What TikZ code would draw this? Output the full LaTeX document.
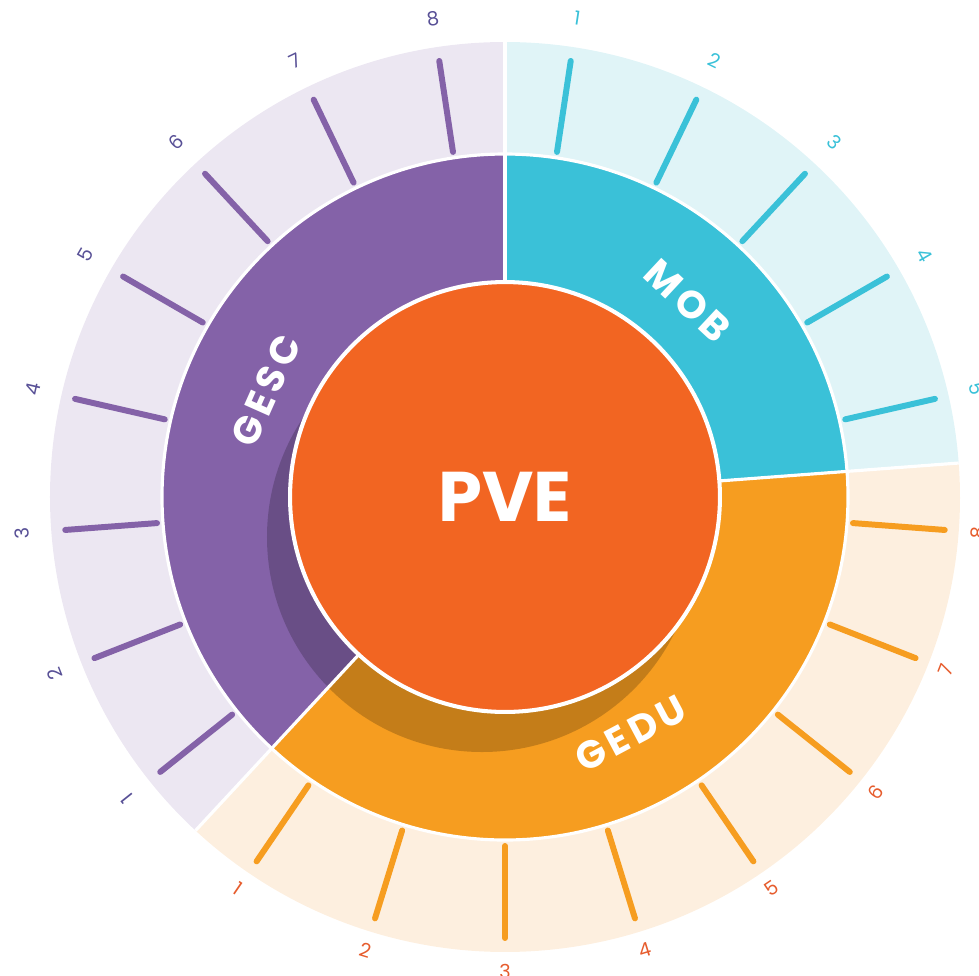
\documentclass[tikz,border=0pt]{standalone}
\usepackage{fontspec}
\setmainfont{Poppins}
\usepackage{tikz}
\usetikzlibrary{calc}
\definecolor{roxo}{RGB}{132, 98, 168}
\definecolor{roxoClaro}{RGB}{236, 231, 242}
\definecolor{roxoTexto}{RGB}{88, 80, 150}
\definecolor{turquesa}{RGB}{58, 193, 216}
\definecolor{turquesaClaro}{RGB}{224, 244, 247}
\definecolor{laranja}{RGB}{246, 157, 32}
\definecolor{laranjaClaro}{RGB}{253, 239, 223}
\definecolor{vermelhao}{RGB}{242, 101, 34}
\definecolor{tijolo}{RGB}{230, 92, 45}
\tikzstyle{traco}=[line width=3.4pt, line cap=round]
\tikzstyle{separa}=[white, line width=1.8pt]
\tikzstyle{numero}=[inner sep=0pt,
                    font=\fontsize{11}{11}\selectfont]
\tikzstyle{eixo}=[text=white, inner sep=0pt,
                  font=\fontsize{22}{22}\selectfont\bfseries\addfontfeatures{LetterSpace=12}]

\begin{document}
\begin{tikzpicture}[x=0.02cm,y=0.02cm]

    \useasboundingbox (-505,-478) rectangle (474,497);

    % anel externo
    \fill[turquesaClaro] (0,0) -- (90:455) arc[start angle=90, end angle=4.2857, radius=455] -- cycle;
    \fill[laranjaClaro] (0,0) -- (4.2857:455) arc[start angle=4.2857, end angle=-132.857, radius=455] -- cycle;
    \fill[roxoClaro] (0,0) -- (90:455) arc[start angle=90, end angle=227.143, radius=455] -- cycle;

    % anel do meio
    \fill[turquesa] (0,0) -- (90:343) arc[start angle=90, end angle=4.2857, radius=343] -- cycle;
    \fill[laranja] (0,0) -- (4.2857:343) arc[start angle=4.2857, end angle=-132.857, radius=343] -- cycle;
    \fill[roxo] (0,0) -- (90:343) arc[start angle=90, end angle=227.143, radius=343] -- cycle;

    % sombra
    \fill[black,opacity=0.2] (-23,-40) circle (215);

    \foreach \a in {90,4.2857,227.143}
        \draw[separa] (0,0) -- (\a:455);
    \draw[separa] (0,0) circle (343);

    \node[circle, fill=vermelhao, draw=white, line width=2.3pt,
          minimum size=8.6cm, text=white,
          font=\fontsize{40}{40}\selectfont\bfseries] (pve) at (0,0) {PVE};

    % MOB
    \foreach \i in {1,...,5}{
        \coordinate (mi\i) at ({90-(360/21)*(\i-0.5)}:349);
        \coordinate (mo\i) at ({90-(360/21)*(\i-0.5)}:441);
        \draw[traco,turquesa] (mi\i) -- (mo\i);
        \node[numero,text=turquesa,rotate={-(360/21)*(\i-0.5)}] (m\i)
            at ({90-(360/21)*(\i-0.5)}:484) {\i};
    }
    % GESC
    \foreach \i in {1,...,8}{
        \coordinate (ci\i) at ({227.143-(360/21)*(\i-0.5)}:349);
        \coordinate (co\i) at ({227.143-(360/21)*(\i-0.5)}:441);
        \draw[traco,roxo] (ci\i) -- (co\i);
        \node[numero,text=roxoTexto,rotate={137.143-(360/21)*(\i-0.5)}] (c\i)
            at ({227.143-(360/21)*(\i-0.5)}:484) {\i};
    }
    % GEDU
    \foreach \i in {1,...,8}{
        \coordinate (di\i) at ({-132.857+(360/21)*(\i-0.5)}:349);
        \coordinate (do\i) at ({-132.857+(360/21)*(\i-0.5)}:441);
        \draw[traco,laranja] (di\i) -- (do\i);
        \node[numero,text=tijolo,rotate={-42.857+(360/21)*(\i-0.5)}] (d\i)
            at ({-132.857+(360/21)*(\i-0.5)}:474) {\i};
    }

    \node[eixo,rotate=-43] (mob) at (47:268) {MOB};
    \node[eixo,rotate=66] (gesc) at (156:262) {GESC};
    \node[eixo,rotate=28] (gedu) at (298:268) {GEDU};

\end{tikzpicture}
\end{document}
